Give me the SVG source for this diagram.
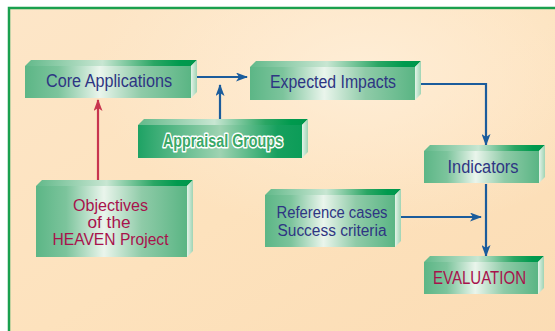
<svg xmlns="http://www.w3.org/2000/svg" width="555" height="331" viewBox="0 0 555 331">
<defs>
<linearGradient id="bg" x1="0" y1="0" x2="1" y2="1">
<stop offset="0" stop-color="#fde6c8"/>
<stop offset="0.5" stop-color="#fde2bd"/>
<stop offset="1" stop-color="#fbdcb4"/>
</linearGradient>
<radialGradient id="glow" cx="0.65" cy="0.2" r="0.5">
<stop offset="0" stop-color="#fff0dc" stop-opacity="0.8"/>
<stop offset="1" stop-color="#fff0dc" stop-opacity="0"/>
</radialGradient>
<linearGradient id="front" x1="0" y1="0" x2="1" y2="0">
<stop offset="0" stop-color="#5cb686"/>
<stop offset="0.2" stop-color="#7cc49c"/>
<stop offset="0.45" stop-color="#eaf5ec"/>
<stop offset="0.7" stop-color="#8fcba8"/>
<stop offset="1" stop-color="#5ab584"/>
</linearGradient>
<linearGradient id="top" x1="0" y1="0" x2="1" y2="0">
<stop offset="0" stop-color="#62b98a"/>
<stop offset="0.45" stop-color="#c8e6d2"/>
<stop offset="0.75" stop-color="#2aa664"/>
<stop offset="0.9" stop-color="#009a4e"/>
<stop offset="1" stop-color="#00964c"/>
</linearGradient>
<linearGradient id="side" x1="0" y1="0" x2="1" y2="0">
<stop offset="0" stop-color="#e4f3e8"/>
<stop offset="1" stop-color="#9fd4b4"/>
</linearGradient>
<linearGradient id="frontA" x1="0" y1="0" x2="1" y2="0">
<stop offset="0" stop-color="#1ea264"/>
<stop offset="0.5" stop-color="#9fd3b2"/>
<stop offset="0.85" stop-color="#16a05e"/>
<stop offset="1" stop-color="#0c9c58"/>
</linearGradient>
<marker id="ab" viewBox="0 0 12 9" refX="11" refY="4.5" markerWidth="12" markerHeight="9" markerUnits="userSpaceOnUse" orient="auto">
<path d="M0,0 L12,4.5 L0,9 L3,4.5 z" fill="#1b5c9c"/>
</marker>
<marker id="ar" viewBox="0 0 12 9" refX="11" refY="4.5" markerWidth="12" markerHeight="9" markerUnits="userSpaceOnUse" orient="auto">
<path d="M0,0 L12,4.5 L0,9 L3,4.5 z" fill="#c8354f"/>
</marker>
</defs>
<style>
.f{fill:url(#front)}
.fa{fill:url(#frontA)}
.t{fill:url(#top)}
.s{fill:url(#side)}
text{font-family:"Liberation Sans",Arial,sans-serif;font-size:17.5px;text-anchor:middle}
.m{font-size:16px}
.n{fill:#2e3583}
.r{fill:#a8124c}
.g{fill:#3aa868;stroke:#ffffff;stroke-width:3;paint-order:stroke;font-weight:bold;stroke-linejoin:round}
.cb{fill:none;stroke:#1b5c9c;stroke-width:2.2}
.cr{fill:none;stroke:#c8354f;stroke-width:2.2}
</style>
<rect x="0" y="0" width="555" height="331" fill="#ffffff"/>
<rect x="9" y="8" width="560" height="340" fill="url(#bg)" stroke="#1aa04e" stroke-width="2.5"/>
<rect x="10" y="9" width="545" height="322" fill="url(#glow)"/>

<g id="connectors">
<path class="cb" d="M197,77 H247" marker-end="url(#ab)"/>
<path class="cb" d="M220,120 V85" marker-end="url(#ab)"/>
<path class="cb" d="M420,84 H486 V145" marker-end="url(#ab)"/>
<path class="cb" d="M486,184 V256" marker-end="url(#ab)"/>
<path class="cb" d="M400,217 H481" marker-end="url(#ab)"/>
<path class="cr" d="M98,180 V100" marker-end="url(#ar)"/>
</g>

<g id="core">
<polygon class="t" points="25,66 31,60 197,60 191,66"/>
<polygon class="s" points="191,66 197,60 197,92 191,98"/>
<rect class="f" x="25" y="66" width="166" height="32"/>
<text class="n" x="109" y="87" textLength="126" lengthAdjust="spacingAndGlyphs">Core Applications</text>
</g>

<g id="impacts">
<polygon class="t" points="250,67 256,61 421,61 415,67"/>
<polygon class="s" points="415,67 421,61 421,94 415,100"/>
<rect class="f" x="250" y="67" width="165" height="33"/>
<text class="n" x="333" y="88" textLength="126" lengthAdjust="spacingAndGlyphs">Expected Impacts</text>
</g>

<g id="appraisal">
<polygon class="t" points="138,125 144,119 308,119 302,125"/>
<polygon class="s" points="302,125 308,119 308,152 302,158"/>
<rect class="fa" x="138" y="125" width="164" height="33"/>
<text class="g" x="223" y="147" textLength="120" lengthAdjust="spacingAndGlyphs">Appraisal Groups</text>
</g>

<g id="objectives">
<polygon class="t" points="36,186 42,180 193,180 187,186"/>
<polygon class="s" points="187,186 193,180 193,251 187,257"/>
<rect class="f" x="36" y="186" width="151" height="71"/>
<text class="r m" x="110.5" y="211" textLength="75" lengthAdjust="spacingAndGlyphs">Objectives</text>
<text class="r m" x="109" y="228" textLength="43" lengthAdjust="spacingAndGlyphs">of the</text>
<text class="r m" x="110.5" y="245" textLength="116" lengthAdjust="spacingAndGlyphs">HEAVEN Project</text>
</g>

<g id="reference">
<polygon class="t" points="265,195 271,189 401,189 395,195"/>
<polygon class="s" points="395,195 401,189 401,241 395,247"/>
<rect class="f" x="265" y="195" width="130" height="52"/>
<text class="n m" x="332" y="218" textLength="111" lengthAdjust="spacingAndGlyphs">Reference cases</text>
<text class="n m" x="332" y="236" textLength="109" lengthAdjust="spacingAndGlyphs">Success criteria</text>
</g>

<g id="indicators">
<polygon class="t" points="424,151 430,145 545,145 539,151"/>
<polygon class="s" points="539,151 545,145 545,177 539,183"/>
<rect class="f" x="424" y="151" width="115" height="32"/>
<text class="n" x="483" y="173" textLength="71" lengthAdjust="spacingAndGlyphs">Indicators</text>
</g>

<g id="evaluation">
<polygon class="t" points="424,262 430,256 544,256 538,262"/>
<polygon class="s" points="538,262 544,256 544,288 538,294"/>
<rect class="f" x="424" y="262" width="114" height="32"/>
<text class="r" x="479.5" y="284" textLength="93" lengthAdjust="spacingAndGlyphs">EVALUATION</text>
</g>
</svg>
